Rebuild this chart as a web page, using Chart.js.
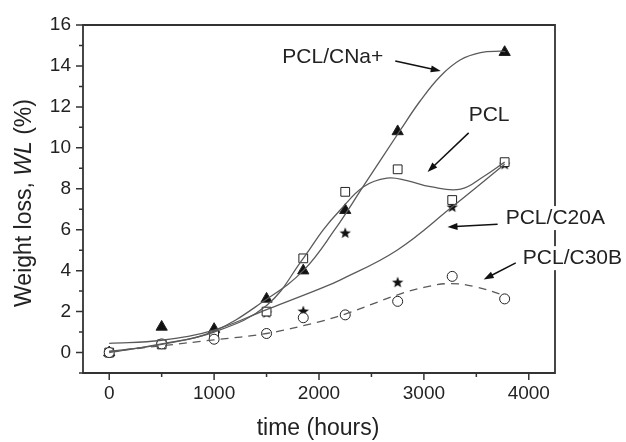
<!DOCTYPE html>
<html>
<head>
<meta charset="utf-8">
<script src="https://cdn.jsdelivr.net/npm/chart.js@4.4.0/dist/chart.umd.min.js"></script>
<style>
  body { margin: 0; background: #fff; }
  #wrap { width: 626px; height: 442px; }
</style>
</head>
<body>
<div id="wrap"><canvas id="wlChart" width="626" height="442"></canvas></div>
<script>
// Measured points (time in hours, weight loss in %)
const time = [0, 500, 1000, 1500, 1850, 2250, 2750, 3270, 3770];
const pclWL = [0, 0.4, 0.85, 2.0, 4.6, 7.85, 8.95, 7.45, 9.3];
const cnaWL = [0, 1.25, 1.14, 2.62, 4.0, 6.95, 10.8, null, 14.67];
const c20aWL = [0, 0.4, 0.9, 1.95, 2.03, 5.85, 3.44, 7.12, 9.2];
const c30bWL = [0, 0.42, 0.65, 0.93, 1.7, 1.84, 2.5, 3.72, 2.62];

// Fitted curves
const cnaFitT = [0, 500, 1000, 1500, 1850, 2150, 2420, 2776, 2966, 3157, 3349, 3540, 3731, 3776];
const cnaFitWL = [0.05, 0.4, 1.05, 2.6, 4.0, 6.0, 8.1, 10.87, 12.3, 13.5, 14.3, 14.65, 14.72, 14.7];
const pclFitT = [0, 500, 1000, 1500, 1850, 2042, 2202, 2425, 2648, 2839, 3062, 3350, 3570, 3770];
const pclFitWL = [0, 0.42, 1.0, 2.3, 4.6, 6.0, 6.96, 8.1, 8.52, 8.4, 8.1, 7.98, 8.6, 9.3];
const c20aFitT = [0, 500, 1000, 1500, 2000, 2200, 2744, 3270, 3770];
const c20aFitWL = [0.45, 0.6, 1.1, 2.1, 3.1, 3.54, 5.0, 7.12, 9.2];
const c30bFitT = [0, 500, 1000, 1500, 2000, 2250, 2500, 2750, 3000, 3250, 3500, 3770];
const c30bFitWL = [0.05, 0.33, 0.62, 0.93, 1.5, 1.88, 2.35, 2.82, 3.18, 3.37, 3.2, 2.78];

// Axis ticks
const xTicks = [0, 1000, 2000, 3000, 4000];
const xMinor = [500, 1500, 2500, 3500];
const yTicks = [0, 2, 4, 6, 8, 10, 12, 14, 16];
const yMinor = [-1, 1, 3, 5, 7, 9, 11, 13, 15];

// Labels with arrows (data units)
const notes = [
    { text: 'PCL/CNa+', x: 1650, y: 14.44, from: [2727, 14.24], to: [3161, 13.75] },
    { text: 'PCL', x: 3427, y: 11.6, from: [3427, 10.73], to: [3035, 8.82] },
    { text: 'PCL/C20A', x: 3780, y: 6.57, from: [3703, 6.27], to: [3225, 6.13] },
    { text: 'PCL/C30B', x: 3943, y: 4.61, from: [3876, 4.38], to: [3570, 3.57] }
];

const INK = '#222';
const LINE = '#5a5a5a';
const FONT = '"Liberation Sans", Arial, sans-serif';

function pairs(xs, ys) {
    return xs.map((x, i) => ({ x: x, y: ys[i] }));
}

// filled five point star used as point marker
function makeStar(r) {
    const c = document.createElement('canvas');
    const s = Math.ceil(r * 2) + 2;
    c.width = s; c.height = s;
    const g = c.getContext('2d');
    g.fillStyle = '#111';
    g.beginPath();
    for (let i = 0; i < 10; i++) {
        const a = -Math.PI / 2 + i * Math.PI / 5;
        const rad = i % 2 ? r * 0.42 : r;
        const px = s / 2 + rad * Math.cos(a);
        const py = s / 2 + 0.5 + rad * Math.sin(a);
        if (i === 0) g.moveTo(px, py); else g.lineTo(px, py);
    }
    g.closePath();
    g.fill();
    return c;
}

function fitLine(xs, ys, dash) {
    return {
        type: 'line',
        data: pairs(xs, ys),
        borderColor: LINE,
        borderWidth: 1.3,
        borderDash: dash || [],
        pointRadius: 0,
        tension: 0.4,
        fill: false
    };
}

function markers(ys, style, radius, fillColor) {
    return {
        type: 'line',
        data: pairs(time, ys),
        showLine: false,
        pointStyle: style,
        pointRadius: radius,
        pointBackgroundColor: fillColor,
        pointBorderColor: '#222',
        pointBorderWidth: 1,
        spanGaps: false
    };
}

function arrow(ctx, x1, y1, x2, y2) {
    const ang = Math.atan2(y2 - y1, x2 - x1);
    const hl = 10, hw = 3.5;
    ctx.strokeStyle = '#111';
    ctx.lineWidth = 1.5;
    ctx.beginPath();
    ctx.moveTo(x1, y1);
    ctx.lineTo(x2 - hl * 0.8 * Math.cos(ang), y2 - hl * 0.8 * Math.sin(ang));
    ctx.stroke();
    ctx.fillStyle = '#111';
    ctx.beginPath();
    ctx.moveTo(x2, y2);
    ctx.lineTo(x2 - hl * Math.cos(ang) + hw * Math.sin(ang), y2 - hl * Math.sin(ang) - hw * Math.cos(ang));
    ctx.lineTo(x2 - hl * Math.cos(ang) - hw * Math.sin(ang), y2 - hl * Math.sin(ang) + hw * Math.cos(ang));
    ctx.closePath();
    ctx.fill();
}

// frame, ticks, axis titles and labels
const decorPlugin = {
    id: 'decor',
    afterDraw(chart) {
        const ctx = chart.ctx;
        const a = chart.chartArea;
        const xs = chart.scales.x, ys = chart.scales.y;
        ctx.save();

        // frame
        ctx.strokeStyle = '#333';
        ctx.lineWidth = 1.8;
        ctx.beginPath();
        ctx.moveTo(a.left, a.top);
        ctx.lineTo(a.right, a.top);
        ctx.lineTo(a.right, a.bottom);
        ctx.lineTo(a.left, a.bottom);
        ctx.closePath();
        ctx.stroke();

        // ticks, outward
        ctx.lineWidth = 1.5;
        ctx.beginPath();
        yTicks.forEach(v => { const p = ys.getPixelForValue(v); ctx.moveTo(a.left, p); ctx.lineTo(a.left - 7, p); });
        yMinor.forEach(v => { const p = ys.getPixelForValue(v); ctx.moveTo(a.left, p); ctx.lineTo(a.left - 4, p); });
        xTicks.forEach(v => { const p = xs.getPixelForValue(v); ctx.moveTo(p, a.bottom); ctx.lineTo(p, a.bottom + 7); });
        xMinor.forEach(v => { const p = xs.getPixelForValue(v); ctx.moveTo(p, a.bottom); ctx.lineTo(p, a.bottom + 4); });
        ctx.stroke();

        // x title
        ctx.fillStyle = INK;
        ctx.font = '23px ' + FONT;
        ctx.textAlign = 'center';
        ctx.textBaseline = 'middle';
        ctx.fillText('time (hours)', (a.left + a.right) / 2 - 1, 429);

        // y title with italic WL
        const parts = [
            { t: 'Weight loss, ', f: '23px ' + FONT },
            { t: 'WL', f: 'italic 23px ' + FONT },
            { t: ' (%)', f: '23px ' + FONT }
        ];
        let total = 0;
        parts.forEach(p => { ctx.font = p.f; p.w = ctx.measureText(p.t).width; total += p.w; });
        ctx.translate(25, 203);
        ctx.rotate(-Math.PI / 2);
        ctx.textAlign = 'left';
        let cx = -total / 2;
        parts.forEach(p => { ctx.font = p.f; ctx.fillText(p.t, cx, 0); cx += p.w; });
        ctx.setTransform(1, 0, 0, 1, 0, 0);

        // curve labels
        ctx.font = '21px ' + FONT;
        ctx.textAlign = 'left';
        ctx.textBaseline = 'middle';
        notes.forEach(n => {
            const tx = xs.getPixelForValue(n.x), ty = ys.getPixelForValue(n.y);
            const w = ctx.measureText(n.text).width;
            ctx.fillStyle = '#fff';
            ctx.fillRect(tx - 2, ty - 12, w + 4, 24);
            ctx.fillStyle = INK;
            ctx.fillText(n.text, tx, ty);
            arrow(ctx, xs.getPixelForValue(n.from[0]), ys.getPixelForValue(n.from[1]),
                xs.getPixelForValue(n.to[0]), ys.getPixelForValue(n.to[1]));
        });
        ctx.restore();
    }
};

const starImg = makeStar(6);

new Chart(document.getElementById('wlChart'), {
    type: 'line',
    data: {
        datasets: [
            fitLine(c30bFitT, c30bFitWL, [8, 6]),
            fitLine(c20aFitT, c20aFitWL),
            fitLine(pclFitT, pclFitWL),
            fitLine(cnaFitT, cnaFitWL),
            markers(c30bWL, 'circle', 5, '#fff'),
            markers(pclWL, 'rect', 6.2, '#fff'),
            markers(c20aWL, starImg, 6, '#111'),
            markers(cnaWL, 'triangle', 6.5, '#111')
        ]
    },
    plugins: [decorPlugin],
    options: {
        responsive: false,
        animation: false,
        events: [],
        layout: { padding: { left: 0, top: 25, right: 71, bottom: 0 } },
        plugins: {
            legend: { display: false },
            tooltip: { enabled: false }
        },
        scales: {
            x: {
                type: 'linear',
                min: -250,
                max: 4250,
                afterFit: s => { s.height = 69; },
                afterBuildTicks: s => { s.ticks = xTicks.map(v => ({ value: v })); },
                grid: { display: false, drawTicks: false },
                border: { display: false },
                ticks: {
                    color: INK, padding: 9, maxRotation: 0,
                    font: { family: FONT, size: 19 },
                    callback: v => String(v)
                }
            },
            y: {
                type: 'linear',
                min: -1,
                max: 16,
                afterFit: s => { s.width = 83; },
                afterBuildTicks: s => { s.ticks = yTicks.map(v => ({ value: v })); },
                grid: { display: false, drawTicks: false },
                border: { display: false },
                ticks: {
                    color: INK, padding: 12,
                    font: { family: FONT, size: 19 },
                    callback: v => String(v)
                }
            }
        }
    }
});
</script>
</body>
</html>
